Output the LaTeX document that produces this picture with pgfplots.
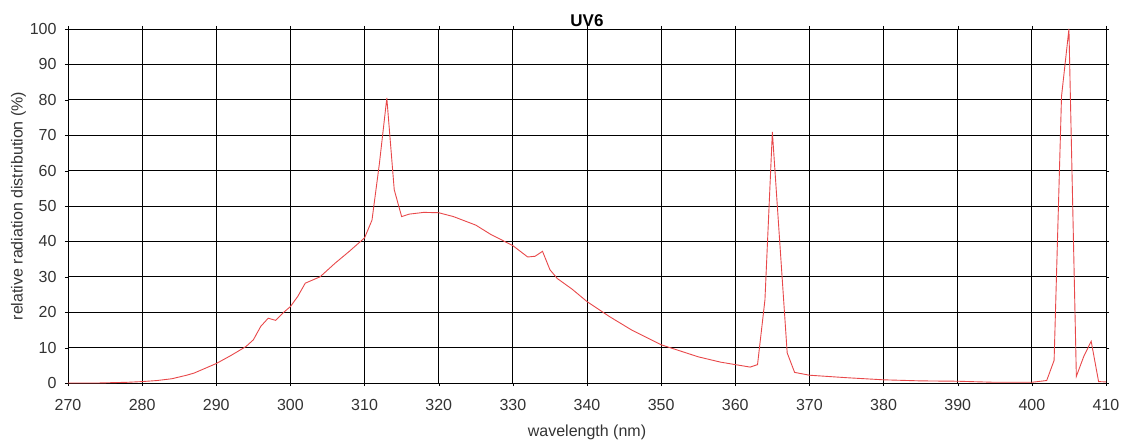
\documentclass[border=0pt]{standalone}
\usepackage{fontspec}
\setmainfont{Liberation Sans}
\usepackage{pgfplots}
\pgfplotsset{compat=1.18}

\definecolor{linered}{HTML}{E8484A}
\definecolor{txt}{HTML}{333333}

\begin{document}
\begin{tikzpicture}
\begin{axis}[
    scale only axis,
    width=1038pt, height=354pt,
    xmin=270, xmax=410, ymin=0, ymax=100,
    xtick={270,280,...,410},
    ytick={0,10,...,100},
    grid=major,
    major grid style={black, line width=0.8pt},
    axis line style={black, line width=0.8pt},
    tick align=outside,
    major tick length=3pt,
    tick style={black},
    ticklabel style={font=\fontsize{16}{18}\selectfont, text=txt},
    /pgf/number format/assume math mode=true,
    /pgf/number format/1000 sep={},
    xticklabel style={yshift=-10pt},
    yticklabel style={xshift=-5pt},
    title={\textbf{UV6}},
    title style={font=\fontsize{17}{19}\selectfont, yshift=-7pt},
    xlabel={wavelength (nm)},
    ylabel={relative radiation distribution (\%)},
    label style={font=\fontsize{16}{18}\selectfont, text=txt},
    xlabel style={yshift=-7pt},
    ylabel style={yshift=-3pt},
]
\addplot[linered, line width=0.9pt] coordinates {
    (270,0) (274,0) (276,0.1) (278,0.2) (280,0.4) (282,0.7) (284,1.2)
    (286,2.2) (287,2.8) (289,4.6) (290,5.5) (292,7.8) (294,10.3)
    (295,12.2) (296,16) (297,18.3) (298,17.7) (299,19.8) (300,21.6)
    (301,24.5) (302,28.2) (304,30) (306,33.8) (308,37.3) (310,41)
    (311,46) (312,62) (313,80.5) (314,54.6) (315,47) (316,47.7)
    (318,48.2) (320,48.1) (322,47) (325,44.6) (327,42) (330,38.8)
    (332,35.6) (333,35.8) (334,37.2) (335,32) (336,29.5) (338,26.5)
    (340,23) (343,18.8) (346,15) (350,10.8) (355,7.4) (358,5.9)
    (360,5.2) (362,4.5) (363,5.2) (364,23.5) (365,70.9) (367,8.5)
    (368,3) (370,2.2) (375,1.5) (380,0.9) (385,0.6) (390,0.5)
    (395,0.2) (400,0.2) (402,0.7) (403,6.4) (404,81) (405,100)
    (406,1.9) (407,7.5) (408,11.8) (409,0.4) (410,0.3)
};
\coordinate (bl) at (rel axis cs:0,0);
\coordinate (tr) at (rel axis cs:1,1);
\end{axis}
\pgfresetboundingbox
\path ([shift={(-68pt,-59pt)}]bl) rectangle ([shift={(16pt,29pt)}]tr);
\end{tikzpicture}
\end{document}
